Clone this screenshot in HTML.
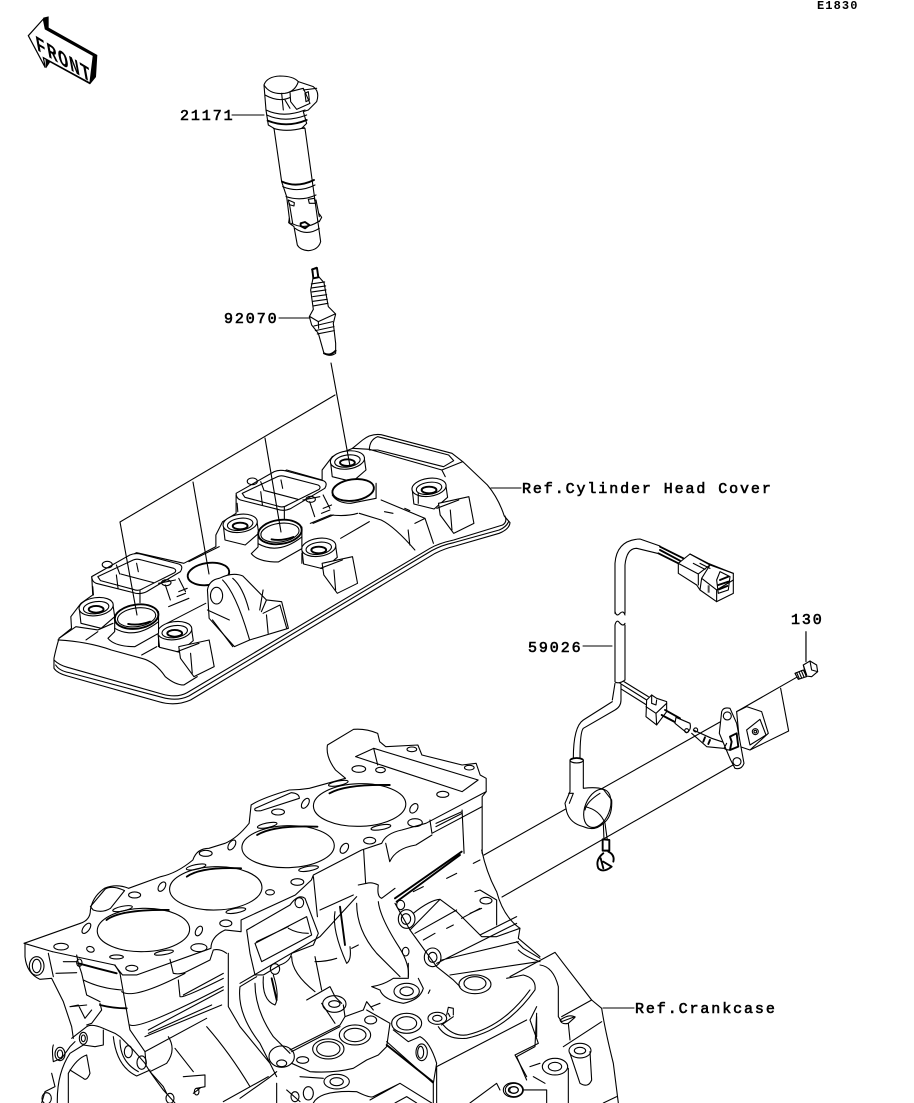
<!DOCTYPE html>
<html><head><meta charset="utf-8"><style>
html,body{margin:0;padding:0;background:#fff;width:914px;height:1103px;overflow:hidden}
svg{display:block}
path,ellipse,line,polyline,polygon,rect,circle{vector-effect:non-scaling-stroke}
.d{fill:none;stroke:#000;stroke-width:1.1;stroke-linejoin:round;stroke-linecap:round}
.w{fill:#fff}
.t{stroke-width:1.9}
.l{font-family:"Liberation Mono",monospace;font-size:15px;letter-spacing:1.9px;fill:#000;stroke:#000;stroke-width:.6}
</style></head><body>
<svg width="914" height="1103" viewBox="0 0 914 1103" xmlns="http://www.w3.org/2000/svg">
<rect width="914" height="1103" fill="#fff"/>

<!-- FRONT -->
<g transform="translate(10,5) scale(.3333)">
<polygon points="100,38 116,34 116,68 262,150 258,216 240,238 120,172 108,190" fill="#000"/>
<polygon points="55,92 100,42 106,72 250,152 240,234 100,158 106,188" fill="#fff" stroke="#000" stroke-width="1.2"/>
</g>
<text transform="matrix(.7,.42,.17,.95,37,50)" font-family="Liberation Mono" font-weight="bold" font-size="24" letter-spacing="1.6" fill="#000">FRONT</text>

<text x="817" y="9" font-family="Liberation Mono" font-weight="bold" font-size="12" letter-spacing="1.1" fill="#000">E1830</text>

<!-- Coil + plug -->
<g class="d" transform="translate(170,60) scale(.3333)">
<path class="w" d="M282 75 Q290 50 330 48 Q370 48 385 65 L430 80 Q450 95 440 125 L415 150 L400 155 L410 190 L395 205 L405 205 L452 545 Q445 570 415 572 Q390 570 382 555 L372 500 L360 490 L350 410 L335 365 L312 205 L295 195 L288 150Z"/>
<path d="M282 75 Q300 105 345 100 Q375 95 385 65"/>
<path d="M285 105 Q330 130 365 110"/>
<path d="M288 150 Q340 175 405 150"/>
<path d="M290 165 Q345 190 410 165"/>
<path d="M293 182 Q350 205 410 180" class="t"/>
<path class="w" d="M360 95 L400 85 L420 130 L380 148 L362 125Z"/>
<path d="M400 90 L440 85M405 100 L415 95 L418 120 L408 125ZM335 100 L340 150M345 120 L360 145"/>
<path d="M310 205 Q350 218 403 203"/>
<path d="M336 365 Q380 385 432 360" class="t"/>
<path d="M338 380 Q385 400 435 375"/>
<path d="M348 410 Q395 425 438 405"/>
<path d="M355 420 L373 428 L372 438 L358 434ZM415 418 L433 415 L436 430 L418 430Z"/>
<path d="M358 430 L368 490M438 420 L448 470"/>
<path d="M358 475 L356 488 L365 495M448 462 L455 472 L448 485"/>
<path d="M365 490 Q405 512 448 483"/>
<path d="M392 490 L405 486 L418 495 L405 505 L392 498Z" class="t"/>
<path d="M375 505 Q410 530 448 505"/>
<!-- plug -->
<path class="w" d="M425 628 L440 622 L446 650 L462 668 L475 740 L497 762 L490 790 L497 850 L497 880 Q480 892 462 880 L445 820 L425 795 L418 770 L430 748 L422 690 L430 650Z"/>
<path class="t" d="M427 628 L441 624 L445 652 L430 655Z"/>
<path d="M424 672 L464 666M425 684 L467 678M426 696 L468 690M428 710 L470 704M429 724 L472 718M430 738 L474 730"/>
<path d="M420 770 L445 785 L495 762M445 785 L446 805M432 798 L488 785M436 812 L492 800M442 822 L493 812"/>
<path class="t" d="M462 880 Q480 890 497 872"/>
</g>

<!-- Cylinder head cover -->
<g class="d" transform="translate(0,420) scale(.3373,.3333)">
<path class="w" d="M160 715 L160 745 Q170 760 200 768 L470 845 Q520 860 565 840 L1290 400 Q1320 385 1350 378 L1480 340 Q1510 328 1512 308 L1495 288 Q1478 235 1445 195 L1372 125 L1340 100 L1130 44 Q1100 40 1075 60 L1045 85 L985 110 L955 150 L955 180 L850 150 L700 225 L700 280 L660 305 L640 345 L640 380 L545 430 L405 398 L272 470 L275 525 L240 550 L210 590 L212 625 L175 655 Q165 690 160 715Z"/>
<path d="M165 735 Q175 752 205 758 L480 832 Q525 845 560 828 L1280 392 Q1310 375 1345 368 L1480 330 Q1500 322 1508 305"/>
<path d="M160 720 Q175 735 200 742 L480 822 Q525 835 555 818 L1275 385 Q1300 370 1345 360 L1490 315 Q1505 305 1497 288"/>
<path d="M172 660 Q260 665 330 690 L420 715 Q460 725 490 770 Q520 795 545 795 L585 770"/>
<path d="M175 655 L225 620 L290 630 L335 610M255 660 L290 635M420 705 L465 680"/>
<path d="M1095 90 Q1095 60 1120 50 L1330 105 L1345 122 L1315 140 L1120 90Z"/>
<path d="M1045 85 L1095 88 L1310 150 L1372 125M1310 150 L1320 170"/>
<g id="fr">
<path class="w" d="M272 470 L385 405 Q400 398 420 403 L530 432 Q545 438 535 455 L435 515 Q415 525 395 518 L285 490 Q272 485 272 470Z"/>
<path d="M290 470 L395 420 Q405 415 420 420 L515 445 Q525 450 518 458 L425 505 Q410 515 395 508 L298 482Z"/>
<path d="M345 465 L350 505M405 430 L410 455M358 462 L455 488M415 510 L415 548M275 500 L277 525"/>
<path d="M345 435 L355 462"/>
<path d="M470 490 L520 480M490 495 L505 540M530 475 L550 515M530 515 L555 505M525 530 L550 520M500 560 L560 535"/>
</g>
<use href="#fr" transform="translate(428,-250)"/>
<ellipse cx="318" cy="434" rx="15" ry="10"/><ellipse cx="748" cy="184" rx="15" ry="10"/>
<ellipse cx="493" cy="488" rx="14" ry="9"/><ellipse cx="921" cy="238" rx="14" ry="9"/>
<g id="sm">
<path class="w" d="M235 565 L240 610 L300 625 L340 590 L335 555Z"/>
<ellipse class="w" cx="285" cy="560" rx="51" ry="27" transform="rotate(-8 285 560)"/>
<ellipse cx="285" cy="563" rx="38" ry="18" transform="rotate(-8 285 563)"/>
<ellipse cx="285" cy="568" rx="22" ry="10" class="t"/>
</g>
<use href="#sm" transform="translate(233,72)"/>
<use href="#sm" transform="translate(427,-250)"/>
<use href="#sm" transform="translate(660,-178)"/>
<use href="#sm" transform="translate(745,-440)"/>
<use href="#sm" transform="translate(987,-358)"/>
<g id="bore">
<path class="w" d="M320 655 Q340 680 400 680 L470 640 L470 575 L340 600 L340 635Z"/>
<path d="M340 625 Q400 660 470 605"/>
<ellipse class="w t" cx="405" cy="590" rx="65" ry="36" transform="rotate(-8 405 590)"/>
<ellipse cx="405" cy="592" rx="57" ry="28" transform="rotate(-8 405 592)"/>
<path class="t" d="M380 612 Q410 618 445 605"/>
</g>
<use href="#bore" transform="translate(425,-254)"/>
<ellipse class="t w" cx="618" cy="462" rx="62" ry="33" transform="rotate(-8 618 462)"/>
<ellipse class="t w" cx="1047" cy="210" rx="62" ry="32" transform="rotate(-8 1047 210)"/>
<path d="M985 225 Q1000 250 1040 250 L1115 235 L1115 190"/>
<path class="w" d="M615 510 Q620 480 650 475 Q690 455 720 468 L790 540 L835 545 L855 625 L740 660 L695 680 L620 595 Z"/>
<ellipse cx="642" cy="527" rx="18" ry="25"/>
<path d="M660 480 Q700 520 740 660M690 475 Q720 500 738 570M615 570 L680 600M630 600 L690 680M775 575 L790 540M780 580 L830 555 L850 625M790 585 L795 640"/>
<g id="blk">
<path class="w" d="M530 680 L620 660 L635 740 L575 770 L535 715Z"/>
<path d="M525 695 L590 670M565 700 L570 760M470 650 L470 680"/>
</g>
<use href="#blk" transform="translate(425,-250)"/>
<use href="#blk" transform="translate(770,-430)"/>
<path d="M1010 355 L1095 305M1065 280 L1130 300 Q1170 320 1230 390M1130 240 L1260 295 L1285 370M1140 275 L1165 280M1200 265 L1215 272M1210 330 L1215 375M1230 310 L1260 295"/>
<path d="M560 425 L650 380M770 570 L780 510M920 310 L980 285 Q1030 290 1060 280M495 610 L610 550"/>
</g>

<!-- Leaders (over the parts) -->
<g class="d">
<line x1="232" y1="115" x2="264" y2="115"/>
<line x1="279" y1="318" x2="310" y2="318"/>
<line x1="331" y1="363" x2="350" y2="466"/>
<line x1="335" y1="395" x2="120" y2="522"/>
<line x1="120" y1="522" x2="137" y2="615"/>
<line x1="193" y1="482" x2="209" y2="574"/>
<line x1="265" y1="438" x2="281" y2="532"/>
<line x1="491" y1="488" x2="521" y2="488"/>
<line x1="583" y1="646" x2="612" y2="646"/>
<line x1="806" y1="632" x2="806" y2="660"/>
<line x1="603" y1="1008" x2="634" y2="1008"/>
<line x1="484" y1="855" x2="720" y2="722"/>
<line x1="502" y1="897" x2="733" y2="765"/>
</g>

<!-- Crankcase: deck -->
<g class="d" transform="translate(0,720) scale(.4018,.3333)">
<path d="M60 670 L200 610 Q225 600 225 570 Q230 530 260 505 Q290 490 320 505 L400 470 Q440 460 480 420 Q490 385 520 385 L560 370 Q590 355 620 310 L625 255 Q650 235 720 210 Q745 210 770 205 L860 175 Q845 160 835 150 Q810 110 815 75 L880 28 Q910 25 940 40 L945 65 L960 80 L1040 75 L1050 105 L1150 135 L1185 130 L1195 165 L1210 175 L1210 215 L1200 230 L1200 400"/>
<ellipse cx="357" cy="630" rx="115" ry="65" transform="rotate(-2 357 630)"/>
<ellipse cx="537" cy="505" rx="115" ry="65" transform="rotate(-2 537 505)"/>
<ellipse cx="717" cy="380" rx="115" ry="63" transform="rotate(-2 717 380)"/>
<ellipse cx="895" cy="255" rx="115" ry="64" transform="rotate(-2 895 255)"/>
<path class="t" d="M265 600 Q300 568 420 570M465 470 Q500 440 600 445M640 345 Q680 315 790 320M820 220 Q860 192 970 195"/>
<ellipse cx="152" cy="680" rx="18" ry="10"/><ellipse cx="495" cy="683" rx="20" ry="12"/><ellipse cx="328" cy="745" rx="15" ry="9"/>
<ellipse cx="335" cy="525" rx="15" ry="9"/><ellipse cx="562" cy="610" rx="15" ry="10"/><ellipse cx="672" cy="517" rx="11" ry="8"/>
<ellipse cx="740" cy="486" rx="16" ry="10"/><ellipse cx="512" cy="400" rx="16" ry="9"/><ellipse cx="692" cy="276" rx="16" ry="9"/>
<ellipse cx="920" cy="362" rx="15" ry="10"/><ellipse cx="1033" cy="308" rx="18" ry="12"/><ellipse cx="1102" cy="223" rx="15" ry="9"/>
<ellipse cx="893" cy="147" rx="17" ry="10"/><ellipse cx="947" cy="150" rx="12" ry="8"/><ellipse cx="1025" cy="88" rx="12" ry="7"/><ellipse cx="1168" cy="143" rx="12" ry="7"/>
<ellipse cx="495" cy="633" rx="8" ry="15" transform="rotate(20 495 633)"/><ellipse cx="577" cy="375" rx="8" ry="16" transform="rotate(25 577 375)"/>
<ellipse cx="403" cy="500" rx="8" ry="15" transform="rotate(25 403 500)"/><ellipse cx="760" cy="250" rx="8" ry="16" transform="rotate(25 760 250)"/>
<ellipse cx="857" cy="385" rx="9" ry="16" transform="rotate(25 857 385)"/><ellipse cx="1030" cy="265" rx="9" ry="15" transform="rotate(25 1030 265)"/>
<ellipse cx="225" cy="688" rx="10" ry="8" transform="rotate(35 225 688)"/><ellipse cx="215" cy="625" rx="8" ry="17" transform="rotate(30 215 625)"/>
<ellipse cx="290" cy="711" rx="17" ry="6"/><ellipse cx="408" cy="698" rx="24" ry="6" transform="rotate(-12 408 698)"/><ellipse cx="587" cy="572" rx="25" ry="7" transform="rotate(-12 587 572)"/>
<ellipse cx="768" cy="446" rx="25" ry="7" transform="rotate(-12 768 446)"/><ellipse cx="948" cy="322" rx="25" ry="7" transform="rotate(-12 948 322)"/><ellipse cx="305" cy="566" rx="25" ry="7" transform="rotate(-14 305 566)"/>
<ellipse cx="488" cy="441" rx="25" ry="7" transform="rotate(-14 488 441)"/><ellipse cx="665" cy="316" rx="25" ry="7" transform="rotate(-14 665 316)"/><ellipse cx="842" cy="190" rx="25" ry="7" transform="rotate(-14 842 190)"/>
<path d="M225 560 L262 507 Q280 495 310 512 L275 565 Q255 580 232 570Z"/>
<path d="M635 265 L725 218 Q745 220 745 235 L650 272 Q630 275 635 265Z"/>
<path d="M130 695 L285 735 L305 765 L340 765 L525 685 Q525 650 560 630 L600 635 L600 600 L735 525 L775 480 L780 465 L900 390 L950 370 Q960 340 1000 330 L1060 310 L1210 215"/>
<path d="M60 670 L130 695"/>
<path d="M885 110 L930 85 L1190 180L1150 215 L885 110M930 85 L940 135"/>
<path d="M1070 300 L1075 340 L1200 260M1085 320 L1150 280M1150 270 L1155 400M1085 310 L1150 275"/>
<path d="M905 390 L910 490M780 470 L790 590M960 370 L970 425 Q985 385 1035 375 L1075 345"/>
</g>

<!-- Crankcase: lower left -->
<g class="d" transform="translate(20,930) scale(.3333)">
<path d="M15 40 L15 80 Q20 130 60 148 L95 145 L130 215 L155 290 L160 325"/>
<ellipse cx="50" cy="108" rx="22" ry="28"/><ellipse cx="50" cy="108" rx="13" ry="20"/>
<path d="M85 70 L100 140M108 130 L170 128M130 95 L170 95"/>
<path d="M170 75 L175 100 L185 130 L200 195 L240 215"/>
<path class="t" d="M175 100 Q230 115 290 130M240 225 Q280 235 320 235"/>
<ellipse cx="178" cy="98" rx="8" ry="11"/>
<path d="M190 150 Q240 175 305 180"/>
<path d="M240 220 L245 240 L215 280 L200 285M150 230 L175 225 L195 265 L215 240M150 230 L200 225"/>
<path d="M285 105 L300 130 L330 300 L375 365 L378 400"/>
<path d="M450 88 L460 130 Q480 135 500 125 L570 90 L580 60 Q600 55 620 70M305 185 Q340 210 495 130"/>
<path d="M475 150 L480 200 Q490 205 610 145M490 195 L610 130"/>
<path d="M330 285 Q360 300 610 170M385 300 L610 180M385 310 L575 225M375 320 L605 225"/>
<path d="M625 70 L625 230 L660 290 L750 400M660 170 L710 140M660 170 Q650 250 720 340 L770 440"/>
<path d="M375 365 L560 265M445 320 Q470 360 440 400 L390 425M465 355 L520 425M560 290 Q630 370 690 470M390 425 L430 470 L440 490M490 440 L555 435 L555 470 L530 475M520 490 L540 475M610 515 L745 440"/>
<path d="M155 325 L200 290 Q215 280 250 295 L285 310 L300 320 L340 360 L375 400 Q385 420 430 480 L465 519M280 320 Q290 410 350 438 L390 420M300 330 Q300 395 355 425"/>
<path d="M250 300 L250 345 L225 350 L190 345 L150 370 Q110 430 112 519M145 430 Q170 385 200 375 L210 430 Q200 455 190 445 L150 420M145 430 L145 519M100 345 Q95 360 100 395 L125 385 L150 350 L165 335M95 430 L105 470 L75 485 L65 519"/>
<ellipse cx="120" cy="372" rx="15" ry="20"/><ellipse cx="120" cy="372" rx="8" ry="12"/>
<ellipse cx="190" cy="325" rx="12" ry="18"/><ellipse cx="190" cy="325" rx="6" ry="10"/>
<ellipse cx="325" cy="365" rx="12" ry="18"/><ellipse cx="365" cy="398" rx="14" ry="20"/>
<ellipse cx="450" cy="505" rx="12" ry="15"/><ellipse cx="80" cy="505" rx="14" ry="17"/><ellipse cx="530" cy="485" rx="7" ry="10"/>
</g>

<!-- Crankcase: centre -->
<g class="d" transform="translate(240,850) scale(.3333)">
<path d="M20 240 L150 165 Q175 130 195 145 L235 250 L220 285 L155 310 Q150 335 120 345 L70 375 L45 375 L30 310 Z"/>
<path d="M45 280 L200 200 L215 255 L65 335 ZM50 275 L145 230M145 235 Q170 250 205 250"/>
<ellipse cx="178" cy="158" rx="13" ry="15"/><ellipse cx="105" cy="357" rx="14" ry="16"/>
<path d="M70 380 Q65 450 105 465 Q120 440 100 375"/><path class="t" d="M95 385 L110 450"/>
<path d="M45 400 Q45 480 100 560 L150 610M155 320 Q155 370 225 425M225 320 L245 420M225 335 Q260 335 290 325M0 400 L240 260 L350 140"/>
<path d="M285 185 Q275 240 320 340 Q335 330 330 290"/><path class="t" d="M300 170 L315 285"/>
<path d="M240 180 L340 135M335 295 L355 285"/>
<path d="M350 160 Q350 240 410 310 L480 380M415 155 Q420 200 470 280 Q510 340 505 380M380 100 Q395 95 415 105 Q410 140 425 145 L465 115M355 105 L380 100"/>
<path d="M505 340 L505 385 L460 385 Q430 405 395 410 L420 420 Q430 450 490 460 Q540 450 550 415 L535 385M570 420 L565 430"/>
<ellipse cx="500" cy="424" rx="38" ry="24"/><ellipse cx="500" cy="424" rx="20" ry="13"/>
<path d="M200 450 L270 410 L285 440 L305 460M245 460 L285 520"/>
<ellipse cx="283" cy="462" rx="35" ry="25"/><ellipse cx="283" cy="462" rx="17" ry="10"/>
<path d="M310 465 L315 500 L370 480 L380 455 L400 480M395 470 L420 460M380 480 L450 520"/>
<path d="M150 600 L300 525 L315 500M155 605 L300 530"/>
<path d="M450 520 L440 590 L415 615 L380 630 L340 655 Q280 670 210 665 L155 640"/>
<ellipse cx="265" cy="597" rx="47" ry="30"/><ellipse cx="265" cy="597" rx="35" ry="22"/>
<ellipse cx="345" cy="555" rx="47" ry="30"/><ellipse cx="345" cy="555" rx="33" ry="20"/>
<ellipse cx="392" cy="510" rx="18" ry="12"/><ellipse cx="188" cy="630" rx="18" ry="10"/>
<ellipse cx="125" cy="620" rx="38" ry="32"/><ellipse cx="125" cy="640" rx="15" ry="10"/>
<path d="M440 575 L580 700 L590 640 Q570 575 540 560 L505 575 L460 540M580 700 L580 759M590 650 L590 759"/>
<path d="M440 585 L578 695" class="t"/>
<ellipse cx="545" cy="607" rx="17" ry="25"/><ellipse cx="542" cy="607" rx="9" ry="18"/>
<ellipse cx="500" cy="520" rx="45" ry="30"/><ellipse cx="500" cy="520" rx="30" ry="20"/>
<ellipse cx="592" cy="505" rx="28" ry="18"/><ellipse cx="592" cy="505" rx="14" ry="9"/>
<path d="M620 495 L625 472 L640 475 L640 495M630 500 L625 490"/>
<path d="M595 530 Q620 570 680 565 Q800 540 885 420 Q890 385 850 375 L800 385M605 525 L640 500M610 525 Q640 560 680 555 Q790 530 870 420"/>
<ellipse cx="705" cy="403" rx="48" ry="28"/><ellipse cx="705" cy="400" rx="33" ry="20"/>
<path class="t" d="M465 145 L665 5M470 155 L660 15"/>
<ellipse cx="482" cy="165" rx="12" ry="14"/><ellipse cx="500" cy="207" rx="25" ry="28"/><ellipse cx="498" cy="207" rx="14" ry="16"/>
<ellipse cx="578" cy="322" rx="25" ry="28"/><ellipse cx="578" cy="322" rx="13" ry="15"/><ellipse cx="497" cy="305" rx="10" ry="13"/>
<path d="M465 160 L510 240 L590 350 L640 390 L660 410M510 240 L600 148 L650 185 L725 260 L770 260 L840 235M520 190 Q570 150 600 148M525 250 L650 180M590 340 L830 220M605 330 L835 275 M630 375 L895 335 M620 235 L640 225M550 270 L585 250M665 205 L720 175M720 255 L830 200"/>
<path d="M705 125 L720 120 L770 150 L770 225M690 190 L725 175"/>
<ellipse cx="738" cy="152" rx="18" ry="10"/>
<path d="M725 0 Q740 70 770 125 Q790 200 840 235 L835 265 L900 320M830 275 L850 295 L900 325"/>
<path d="M520 125 L550 110M620 85 L650 70M700 40 L720 30"/>
<path d="M590 650 L860 510M830 620 L860 690M885 590 L830 620M890 490 L885 590M870 650 L900 640M690 759 L770 700 L780 720"/>
<ellipse cx="822" cy="720" rx="26" ry="20"/><ellipse cx="822" cy="720" rx="13" ry="10"/>
<path d="M110 700 L110 759M0 745 L85 685 L110 665M140 720 L180 755"/>
<ellipse cx="165" cy="740" rx="12" ry="15"/><ellipse cx="205" cy="730" rx="15" ry="20"/>
<ellipse cx="290" cy="695" rx="38" ry="22"/><ellipse cx="290" cy="695" rx="20" ry="12"/>
<path d="M180 680 L250 685M220 759 Q240 720 350 725 Q390 745 400 740 L480 700 L575 759M390 750 L480 700M465 759 L500 740 L530 759"/>
</g>

<!-- Crankcase: right -->
<g class="d" transform="translate(490,920) scale(.3333)">
<path d="M60 170 L195 97 L220 130 L305 240 L335 265 Q345 330 370 430 L385 549"/>
<path d="M85 90 Q105 110 150 125M150 135 Q190 140 205 200 L205 290 L215 305 L255 290M215 290 L305 240M235 310 L240 360M220 380 L335 305"/>
<path d="M210 300 Q240 280 255 292 L235 310 Q215 315 210 300"/>
<ellipse cx="270" cy="392" rx="33" ry="22"/><ellipse cx="270" cy="392" rx="17" ry="10"/>
<ellipse cx="195" cy="440" rx="38" ry="25"/><ellipse cx="195" cy="440" rx="20" ry="13"/>
<path d="M240 400 L270 490 Q295 505 305 480 L300 395M75 405 L145 370 L120 300 L140 260M75 405 L110 470M140 290 L140 350M235 445 L235 549"/>
<ellipse cx="70" cy="510" rx="30" ry="22"/><ellipse cx="70" cy="510" rx="15" ry="10"/>
<path d="M100 510 Q130 510 170 510 L170 549M130 470 L165 490M340 549 L380 530"/>
</g>

<!-- Harness -->
<g class="d" transform="translate(520,530) scale(.3333)">
<path d="M830 442 L650 545M782 475 L806 603 L690 660"/>
<line x1="858" y1="305" x2="858" y2="395"/>
<path d="M285 250 L285 100 Q290 30 360 27 L420 48M315 250 L315 105 Q320 55 350 55 L412 70"/>
<path d="M285 245 Q290 262 300 250 Q310 240 315 255M285 285 Q290 265 300 280 Q310 290 315 280"/>
<path d="M285 285 L285 455M315 285 L315 450M287 457 Q300 462 315 450"/>
<path class="t" d="M420 50 L490 85M415 70 L475 100M420 60 L480 92"/>
<path class="w" d="M475 100 L510 72 L565 100 L640 130 L640 190 L590 215 L540 180 L530 165 L475 130Z"/>
<path d="M475 100 L535 132 L535 165M510 72 L570 105 L535 132M520 100 L555 118M540 100 L570 115M570 105 L640 130M570 105 L545 145 L590 180 L640 150M590 180 L590 215M545 145 L540 180M600 125 L630 140 L625 180 L595 190 L590 150 Z"/>
<path d="M600 150 L625 140M595 165 L625 155M597 178 L622 168" class="t"/>
<rect x="563" y="166" width="6" height="22" fill="#000" stroke="none" opacity=".7"/>
<path d="M300 460 L380 510M312 455 L385 500M305 478 L380 525"/>
<path d="M285 460 L277 510M303 465 L303 510 Q303 530 285 540 L190 595 Q180 605 180 685M277 515 L190 570 Q160 590 160 685"/>
<path class="w" d="M380 510 L395 495 L410 505 L440 515 L440 545 L410 585 L378 560Z"/>
<path d="M378 530 L408 550 L440 520M395 495 L395 520 L408 525 L410 510M408 550 L410 585"/>
<path class="t" d="M435 540 L480 565M425 555 L468 578"/>
<path class="w" d="M468 562 L510 580 Q515 600 500 608 L465 580Z"/>
<circle cx="500" cy="602" r="6"/><circle cx="527" cy="600" r="6"/>
<path d="M515 610 L560 650 L610 655M520 600 L575 625 L620 640"/>
<path class="t" d="M555 622 L550 635M570 630 L565 642"/>
<path class="w" d="M650 545 L680 530 L725 545 L745 610 L690 660 L660 650Z"/>
<path class="w" d="M605 545 Q610 530 630 535 L650 580 L672 700 Q665 720 645 715 L632 690 L598 610Z"/>
<path d="M680 600 L720 568 L738 615 L690 645Z"/>
<circle cx="706" cy="605" r="9"/><circle cx="706" cy="605" r="4"/>
<circle cx="622" cy="558" r="12"/><circle cx="651" cy="695" r="12"/>
<path class="t" d="M630 620 L650 610 L655 650 L630 660 L635 635Z"/>
<path d="M620 640 L612 655 Q625 665 640 655"/>
<path class="w" d="M825 430 L850 420 L860 440 L835 448Z"/>
<path d="M830 428 L838 446M837 425 L845 444M844 422 L852 441"/>
<path class="w" d="M850 405 L870 393 L890 405 L893 425 L875 440 L858 438Z"/>
<path d="M850 405 L860 435M870 393 L875 420L893 425"/>
<path class="w" d="M150 690 Q170 680 190 690 L190 775 Q230 770 250 778 L275 810 Q278 860 250 880 Q225 905 190 890 Q150 880 140 845 L135 820 L150 785Z"/>
<ellipse cx="170" cy="691" rx="20" ry="8"/>
<path d="M146 790 L160 790 L148 820"/>
<ellipse cx="232" cy="835" rx="37" ry="60" transform="rotate(22 232 835)"/>
<path d="M195 830 Q240 840 255 880 L262 930M195 840 Q200 815 240 790M250 880 L252 930"/>
<path class="w t" d="M248 928 L268 930 L268 962 L248 962Z"/>
<path class="t" d="M265 965 Q285 975 280 995M250 970 Q225 990 235 1015 Q250 1030 275 1010L250 995M242 985 L250 1015"/>
</g>

<!-- Labels -->
<text class="l" x="180" y="120">21171</text>
<text class="l" x="224" y="323">92070</text>
<text class="l" x="522" y="493">Ref.Cylinder Head Cover</text>
<text class="l" x="528" y="652">59026</text>
<text class="l" x="791" y="624">130</text>
<text class="l" x="635" y="1013">Ref.Crankcase</text>
</svg>
</body></html>
